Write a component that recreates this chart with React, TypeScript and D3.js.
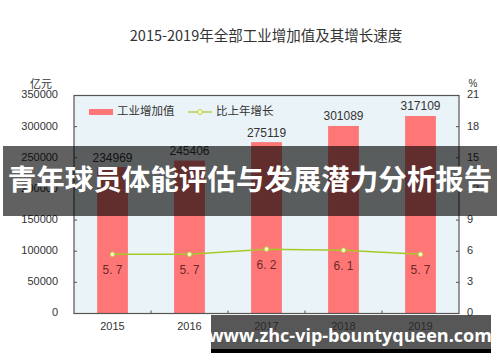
import React from 'react';
import * as d3 from 'd3';

const years = ['2015', '2016', '2017', '2018', '2019'];
const valueAdded = [234969, 245406, 275119, 301089, 317109];
const growth = [5.7, 5.7, 6.2, 6.1, 5.7];
const leftTicks = [0, 50000, 100000, 150000, 200000, 250000, 300000, 350000];
const rightTicks = [0, 3, 6, 9, 12, 15, 18, 21];
const title = '2015-2019年全部工业增加值及其增长速度';
const leftUnit = '亿元';
const rightUnit = '%';
const legendBar = '工业增加值';
const legendLine = '比上年增长';
const banner = '青年球员体能评估与发展潜力分析报告';
const watermark = 'www.zhc-vip-bountyqueen.com';

const W = 500, H = 362;
const L = 74, R = 459, T = 95.5, B = 313.5;

export default function App() {
  const x = d3.scaleBand<string>().domain(years).range([L, R]);
  const yL = d3.scaleLinear().domain([0, 350000]).range([B, T]);
  const yR = d3.scaleLinear().domain([0, 21]).range([B, T]);
  const bw = x.bandwidth() * 0.4;
  const cx = (d: string) => (x(d) as number) + x.bandwidth() / 2;
  const line = d3.line<number>().x((_, i) => cx(years[i])).y((d) => yR(d));
  const chartFont = '"Liberation Sans", "Noto Sans CJK SC", sans-serif';
  const cjk = '"Noto Sans CJK SC", sans-serif';
  const bounds = years.slice(1).map((d) => x(d) as number);

  return (
    <svg width={W} height={H} style={{ position: 'absolute', left: 0, top: 0, background: '#fff' }}>
      <rect x={0} y={0} width={W} height={H} fill="#fff" />
      <text x={266} y={37} textAnchor="middle" dominantBaseline="middle" fontFamily={cjk} fontSize={14.5} fill="#333">{title}</text>
      <rect x={L} y={T} width={R - L} height={B - T} fill="#eaf3f8" />
      {years.map((d, i) => (
        <rect key={d} x={cx(d) - bw / 2} y={yL(valueAdded[i])} width={bw} height={B - yL(valueAdded[i])} fill="#ff7676" />
      ))}
      {years.map((d, i) => (
        <text key={d} x={cx(d)} y={yL(valueAdded[i]) - 5.5} textAnchor="middle" fontFamily={chartFont} fontSize={12} fill="#333">{valueAdded[i]}</text>
      ))}
      <path d={line(growth) || ''} fill="none" stroke="#a8c82a" strokeWidth={1.5} />
      {growth.map((g, i) => (
        <circle key={i} cx={cx(years[i])} cy={yR(g)} r={2.3} fill="#ffffd0" stroke="#b8cc40" strokeWidth={1} />
      ))}
      {growth.map((g, i) => (
        <text key={i} x={cx(years[i])} y={yR(g) + 20} textAnchor="middle" fontFamily={chartFont} fontSize={12} fill="#6b2a2a">{g.toFixed(1).replace('.', '. ')}</text>
      ))}
      <rect x={L} y={T} width={R - L} height={B - T} fill="none" stroke="#555" strokeWidth={1.2} />
      {leftTicks.map((t) => (
        <g key={t}>
          <line x1={L} x2={L + 3} y1={yL(t)} y2={yL(t)} stroke="#555" />
          <text x={58} y={yL(t)} textAnchor="end" dominantBaseline="middle" fontFamily={chartFont} fontSize={11} fill="#333">{t}</text>
        </g>
      ))}
      {rightTicks.map((t) => (
        <g key={t}>
          <line x1={R - 3} x2={R} y1={yR(t)} y2={yR(t)} stroke="#555" />
          <text x={467} y={yR(t)} textAnchor="start" dominantBaseline="middle" fontFamily={chartFont} fontSize={11} fill="#333">{t}</text>
        </g>
      ))}
      {bounds.map((b, i) => (
        <line key={i} x1={b} x2={b} y1={B} y2={B - 3} stroke="#555" />
      ))}
      {years.map((d) => (
        <text key={d} x={cx(d)} y={327} textAnchor="middle" dominantBaseline="middle" fontFamily={chartFont} fontSize={11} fill="#333">{d}</text>
      ))}
      <text x={41} y={85} textAnchor="middle" dominantBaseline="middle" fontFamily={cjk} fontSize={11} fill="#333">{leftUnit}</text>
      <text x={473} y={84} textAnchor="middle" dominantBaseline="middle" fontFamily={chartFont} fontSize={10} fill="#333">{rightUnit}</text>
      <rect x={89} y={109} width={24} height={6} fill="#ff7676" />
      <text x={117} y={112} dominantBaseline="middle" fontFamily={cjk} fontSize={11.5} fill="#333">{legendBar}</text>
      <line x1={188} x2={212} y1={112} y2={112} stroke="#a8c82a" strokeWidth={1.2} />
      <circle cx={200} cy={112} r={2.3} fill="#ffffd0" stroke="#b8cc40" />
      <text x={216} y={112} dominantBaseline="middle" fontFamily={cjk} fontSize={11.5} fill="#333">{legendLine}</text>
      <rect x={3} y={146} width={494} height={70} fill="rgba(0,0,0,0.62)" />
      <text x={250} y={182} textAnchor="middle" dominantBaseline="middle" fontFamily={cjk} fontWeight="bold" fontSize={28.5} fill="#fff">{banner}</text>
      <rect x={211} y={315} width={280} height={34} fill="rgba(40,40,40,0.78)" />
      <rect x={211} y={349} width={280} height={4} fill="#000" />
      <text x={350} y={337} textAnchor="middle" dominantBaseline="middle" fontFamily={'"Open Sans", sans-serif'} fontWeight="bold" fontSize={18} fill="#fff">{watermark}</text>
    </svg>
  );
}
